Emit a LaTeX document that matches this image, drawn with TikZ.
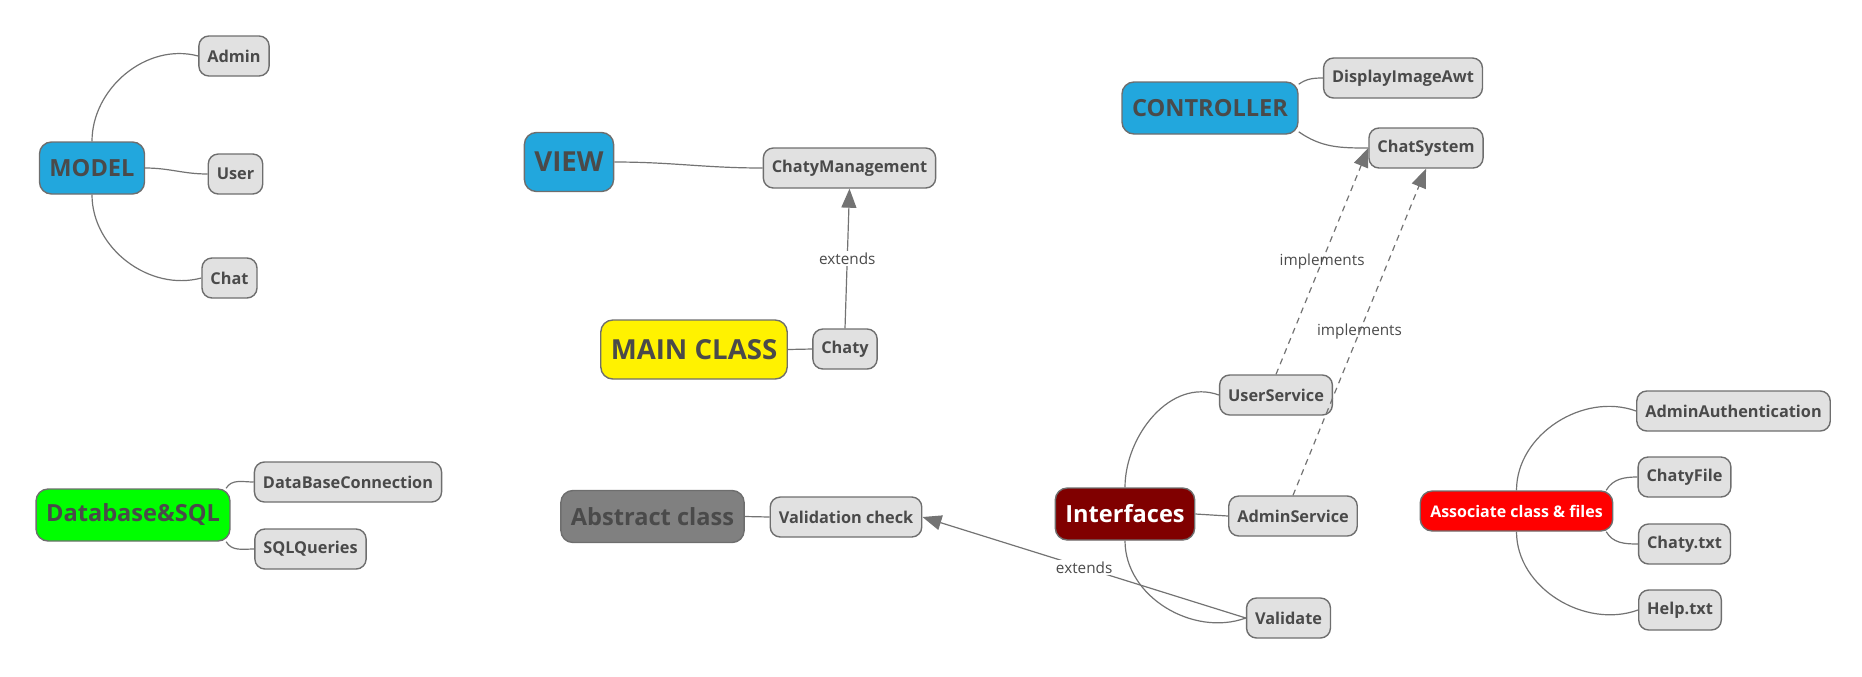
\documentclass[tikz,border=0pt]{standalone}
\usepackage{fontspec}
\setmainfont{Open Sans}
\usetikzlibrary{arrows.meta}
\definecolor{linegray}{HTML}{737373}
\definecolor{boxgray}{HTML}{6E6E6E}
\definecolor{leafgray}{HTML}{E1E1E1}
\definecolor{textgray}{HTML}{4A4A4A}
\definecolor{skyblue}{HTML}{22A7DD}
\definecolor{darkred}{HTML}{800000}

\begin{document}
\begin{tikzpicture}[x=0.5pt,y=0.5pt,
    leaf/.style={draw=boxgray,fill=leafgray,line width=0.7pt,rounded corners=5pt,text=textgray,
      font=\bfseries\fontsize{8.15}{10}\selectfont,inner xsep=4.25pt,minimum height=20pt},
    root/.style={draw=boxgray,line width=0.7pt,rounded corners=6pt,text=textgray,
      font=\bfseries\fontsize{11.8}{14}\selectfont,inner xsep=5pt,minimum height=26pt},
    bigroot/.style={root,font=\bfseries\fontsize{13.8}{16}\selectfont,minimum height=29.5pt},
    link/.style={color=linegray,line width=0.6pt},
    tag/.style={text=textgray,font=\fontsize{7.65}{9}\selectfont,inner sep=1pt},
    head/.style={-{Triangle[length=9.5pt,width=7.5pt]}}]
  \useasboundingbox (0,0) rectangle (1862,-676);
  \node[root,fill=skyblue] (model) at (92,-168) {MODEL};
  \node[leaf] (admin) at (234,-56) {Admin};
  \node[leaf] (user) at (235.5,-174) {User};
  \node[leaf] (chat) at (229.5,-278) {Chat};
  \node[bigroot,fill=skyblue] (view) at (569,-162) {VIEW};
  \node[leaf] (chatymgmt) at (849.5,-168) {ChatyManagement};
  \node[bigroot,fill=yellow] (mainclass) at (694,-349.5) {MAIN CLASS};
  \node[leaf] (chaty) at (845,-349) {Chaty};
  \node[root,fill=skyblue] (controller) at (1210,-108) {CONTROLLER};
  \node[leaf] (display) at (1403,-78) {DisplayImageAwt};
  \node[leaf] (chatsystem) at (1426,-148) {ChatSystem};
  \node[root,fill=darkred,text=white] (interfaces) at (1125,-514) {Interfaces};
  \node[leaf] (userservice) at (1276,-395) {UserService};
  \node[leaf] (adminservice) at (1293,-516) {AdminService};
  \node[leaf] (validate) at (1288.5,-618) {Validate};
  \node[root,fill=red,text=white,font=\bfseries\fontsize{8}{10}\selectfont,minimum height=20pt] (associate) at (1516.5,-511) {Associate class \& files};
  \node[leaf] (adminauth) at (1733.5,-411) {AdminAuthentication};
  \node[leaf] (chatyfile) at (1684.5,-477) {ChatyFile};
  \node[leaf] (chatytxt) at (1684.5,-544) {Chaty.txt};
  \node[leaf] (helptxt) at (1680,-610) {Help.txt};
  \node[root,fill=green] (database) at (133,-515) {Database\&SQL};
  \node[leaf] (dbconn) at (348,-482) {DataBaseConnection};
  \node[leaf] (sqlqueries) at (310.5,-549) {SQLQueries};
  \node[root,fill=gray] (abstract) at (652.5,-516.5) {Abstract class};
  \node[leaf] (validcheck) at (846,-517) {Validation check};
  \path[link]
    (model.north) edge[out=90,in=165] (admin.west)
    (model.east) edge[out=0,in=180] (user.west)
    (model.south) edge[out=270,in=195] (chat.west)
    (view.east) edge[out=0,in=180] (chatymgmt.west)
    (mainclass.east) edge (chaty.west)
    (controller.15) edge[out=35,in=180] (display.west)
    (controller.-15) edge[out=-35,in=180] (chatsystem.west)
    (interfaces.north) edge[out=90,in=160] (userservice.west)
    (interfaces.east) edge (adminservice.west)
    (interfaces.south) edge[out=270,in=200] (validate.west)
    (associate.north) edge[out=90,in=160] (adminauth.west)
    (associate.13) edge[out=60,in=180] (chatyfile.west)
    (associate.-13) edge[out=-60,in=180] (chatytxt.west)
    (associate.south) edge[out=270,in=200] (helptxt.west)
    (database.16) edge[out=60,in=180] (dbconn.west)
    (database.-16) edge[out=-60,in=180] (sqlqueries.west)
    (abstract.east) edge (validcheck.west);
  \path[link,head]
    (chaty.north) edge node[tag,fill=white] {extends} (chatymgmt.south)
    (validate.west) edge node[tag,fill=white] {extends} (validcheck.east)
    (userservice.north) edge[dash pattern=on 3pt off 2.5pt] node[tag] {implements} (chatsystem.west)
    (adminservice.north) edge[dash pattern=on 3pt off 2.5pt] node[tag] {implements} (chatsystem.south);
\end{tikzpicture}
\end{document}
